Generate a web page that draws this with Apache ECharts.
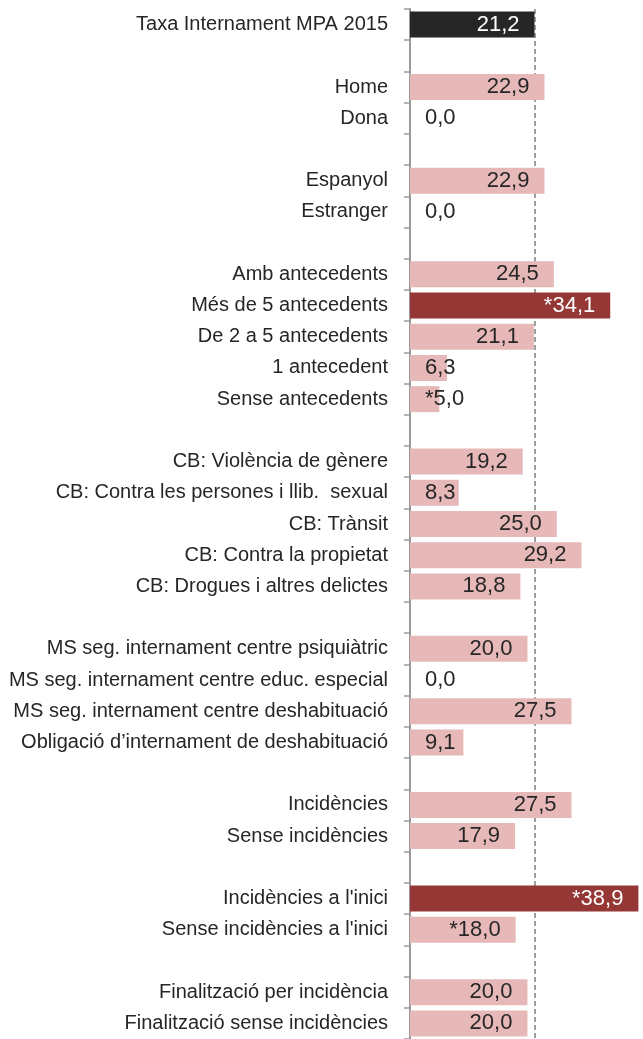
<!DOCTYPE html>
<html>
<head>
<meta charset="utf-8">
<script src="https://cdn.jsdelivr.net/npm/echarts@6/dist/echarts.min.js"></script>
<style>
  html, body { margin: 0; padding: 0; background: #fff; }
  #main { width: 643px; height: 1039px; }
</style>
</head>
<body>
<div id="main"></div>
<script>
// categories, top to bottom ('' = empty row between groups)
var categories = [
  "Taxa Internament MPA 2015", "",
  "Home", "Dona", "",
  "Espanyol", "Estranger", "",
  "Amb antecedents", "Més de 5 antecedents", "De 2 a 5 antecedents", "1 antecedent", "Sense antecedents", "",
  "CB: Violència de gènere", "CB: Contra les persones i llib.  sexual", "CB: Trànsit", "CB: Contra la propietat", "CB: Drogues i altres delictes", "",
  "MS seg. internament centre psiquiàtric", "MS seg. internament centre educ. especial", "MS seg. internament centre deshabituació", "Obligació d’internament de deshabituació", "",
  "Incidències", "Sense incidències", "",
  "Incidències a l'inici", "Sense incidències a l'inici", "",
  "Finalització per incidència", "Finalització sense incidències"
];
var values = [
  21.2, null,
  22.9, 0.0, null,
  22.9, 0.0, null,
  24.5, 34.1, 21.1, 6.3, 5.0, null,
  19.2, 8.3, 25.0, 29.2, 18.8, null,
  20.0, 0.0, 27.5, 9.1, null,
  27.5, 17.9, null,
  38.9, 18.0, null,
  20.0, 20.0
];
// statistically significant difference (marked with *)
var significant = [
  false, false,
  false, false, false,
  false, false, false,
  false, true, false, false, true, false,
  false, false, false, false, false, false,
  false, false, false, false, false,
  false, false, false,
  true, true, false,
  false, false
];
var totalRate = 21.2;

function fmt(v) { return v.toFixed(1).replace(".", ","); }

var barData = values.map(function (v, i) {
  if (v === null) return "-";
  var color = "#E6B9B8", text = "#262626";
  if (i === 0) { color = "#262626"; text = "#ffffff"; }
  else if (significant[i] && v > totalRate) { color = "#953735"; text = "#ffffff"; }
  var label = (significant[i] ? "*" : "") + fmt(v);
  var small = v < 10;
  return {
    value: v,
    itemStyle: { color: color },
    label: small
      ? { show: true, position: [15, "50%"], align: "left", verticalAlign: "middle", color: text, formatter: label }
      : { show: true, position: "insideRight", distance: 15, color: text, formatter: label }
  };
});

var myChart = echarts.init(document.getElementById("main"));

var option = {
  animation: false,
  textStyle: { fontFamily: "Liberation Sans, Arial, sans-serif" },
  grid: { left: 410, right: 4, top: 9, bottom: 0, containLabel: false },
  xAxis: {
    type: "value",
    min: 0,
    max: 39,
    show: false
  },
  yAxis: {
    type: "category",
    inverse: true,
    data: categories,
    axisLine: { show: true, lineStyle: { color: "#9a9a9a", width: 2 } },
    axisTick: { show: true, length: 6, lineStyle: { color: "#9a9a9a", width: 1.5 } },
    axisLabel: { margin: 22, fontSize: 20, color: "#262626", interval: 0 },
    splitLine: { show: false }
  },
  series: [
    {
      type: "bar",
      data: barData,
      barWidth: 26,
      z: 2,
      label: { fontSize: 22 },
      markLine: {
        z: 1,
        silent: true,
        symbol: "none",
        label: { show: false },
        lineStyle: { type: [5, 3], color: "#7f7f7f", width: 1.5 },
        data: [{ xAxis: totalRate }]
      }
    }
  ]
};

myChart.setOption(option);
</script>
</body>
</html>
